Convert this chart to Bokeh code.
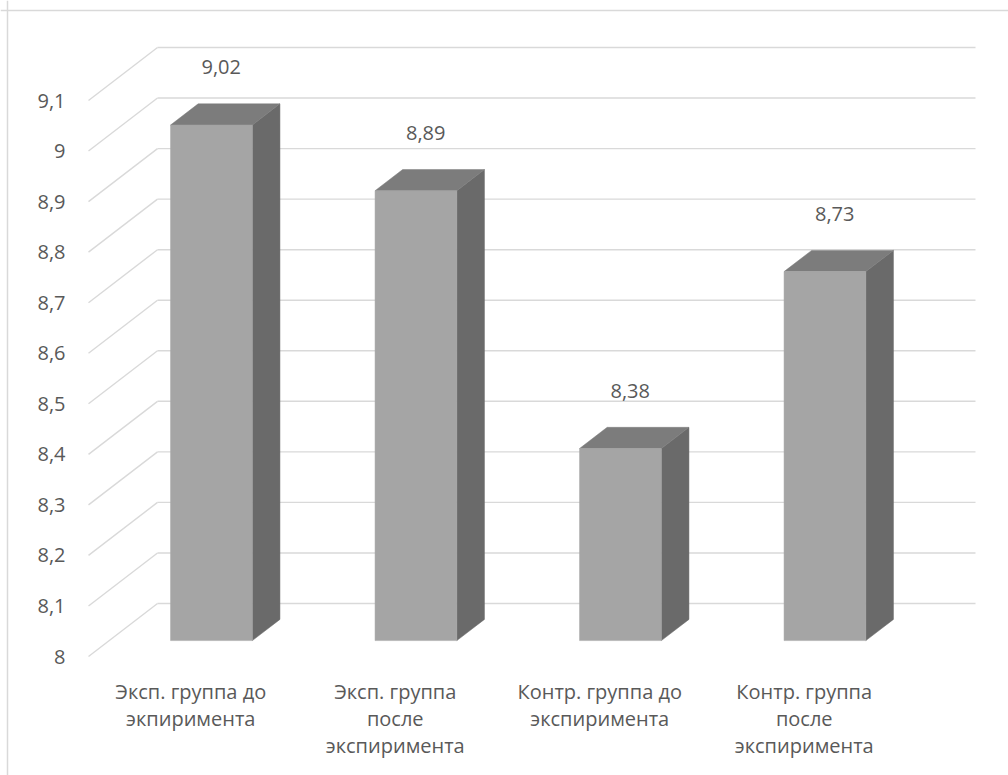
from bokeh.plotting import figure
from bokeh.models import Range1d, Span, ColumnDataSource
from bokeh.core.properties import value
from bokeh.embed import file_html
from bokeh.resources import INLINE

# ---- data -------------------------------------------------------------
categories = [
    "Эксп. группа до\nэкпиримента",
    "Эксп. группа\nпосле\nэкспиримента",
    "Контр. группа до\nэкспиримента",
    "Контр. группа\nпосле\nэкспиримента",
]
scores = [9.02, 8.89, 8.38, 8.73]
y_ticks = [8.0, 8.1, 8.2, 8.3, 8.4, 8.5, 8.6, 8.7, 8.8, 8.9, 9.0, 9.1]
y_tick_labels = ["8", "8,1", "8,2", "8,3", "8,4", "8,5", "8,6", "8,7", "8,8", "8,9", "9", "9,1"]
y_min = 8.0


def ru(v):
    return f"{v:.2f}".replace(".", ",")


value_labels = [ru(v) for v in scores]

# ---- layout (pixels) --------------------------------------------------
W, H = 1008, 775
X0_PX = 88          # front-left corner of the floor
PX_PER_CAT = 204.5  # width of one category slot
Y0_PX = 656         # front floor level (value = y_min)
PX_PER_UNIT = 505.45
DEPTH_PX = (69, 53)  # oblique offset from front plane to back wall

x_range = Range1d(-X0_PX / PX_PER_CAT, (W - X0_PX) / PX_PER_CAT)
y_range = Range1d(y_min - (H - Y0_PX) / PX_PER_UNIT, y_min + Y0_PX / PX_PER_UNIT)
DX = DEPTH_PX[0] / PX_PER_CAT
DY = DEPTH_PX[1] / PX_PER_UNIT

n = len(scores)
HALF = 0.2          # half bar width (gap width 150%)
D0, D1 = 0.3, 0.7   # bar depth, front and back

FONT = value("Open Sans")
TEXT_COLOR = "#595959"
GRID_COLOR = "#D9D9D9"

p = figure(width=W, height=H, x_range=x_range, y_range=y_range,
           output_backend="svg", toolbar_location=None,
           x_axis_location=None, y_axis_location=None,
           min_border=0, outline_line_color=None,
           background_fill_color="white", border_fill_color="white")
p.min_border_left = p.min_border_right = p.min_border_top = p.min_border_bottom = 0
p.xgrid.visible = False
p.ygrid.visible = False

# chart area border (top and left edges)
p.add_layout(Span(location=x_range.start + 7 / PX_PER_CAT, dimension="height",
                  line_color=GRID_COLOR, line_width=1.5))
p.add_layout(Span(location=y_range.end - 10 / PX_PER_UNIT, dimension="width",
                  line_color=GRID_COLOR, line_width=1.5))

# ---- gridlines: back wall + left side wall ----------------------------
grid = ColumnDataSource(dict(
    bx0=[0 + DX] * len(y_ticks), bx1=[n + DX] * len(y_ticks),
    by=[t + DY for t in y_ticks],
    sx0=[0] * len(y_ticks), sy0=y_ticks,
    sx1=[DX] * len(y_ticks),
))
p.segment(x0="bx0", y0="by", x1="bx1", y1="by", source=grid,
          line_color=GRID_COLOR, line_width=1.4)
p.segment(x0="sx0", y0="sy0", x1="sx1", y1="by", source=grid,
          line_color=GRID_COLOR, line_width=1.4)

# ---- 3D columns -------------------------------------------------------
front_xs, front_ys, top_xs, top_ys, side_xs, side_ys = [], [], [], [], [], []
for i, v in enumerate(scores):
    c = i + 0.5
    l, r = c - HALF, c + HALF
    front_xs.append([l + D0 * DX, r + D0 * DX, r + D0 * DX, l + D0 * DX])
    front_ys.append([y_min + D0 * DY, y_min + D0 * DY, v + D0 * DY, v + D0 * DY])
    top_xs.append([l + D0 * DX, r + D0 * DX, r + D1 * DX, l + D1 * DX])
    top_ys.append([v + D0 * DY, v + D0 * DY, v + D1 * DY, v + D1 * DY])
    side_xs.append([r + D0 * DX, r + D1 * DX, r + D1 * DX, r + D0 * DX])
    side_ys.append([y_min + D0 * DY, y_min + D1 * DY, v + D1 * DY, v + D0 * DY])

p.patches(side_xs, side_ys, fill_color="#6A6A6A", line_color="#6A6A6A", line_width=0.5)
p.patches(top_xs, top_ys, fill_color="#7C7C7C", line_color="#7C7C7C", line_width=0.5)
p.patches(front_xs, front_ys, fill_color="#A5A5A5", line_color="#A5A5A5", line_width=0.5)

# ---- value labels above each column -----------------------------------
mid = 0.5 * (D0 + D1)
lab = ColumnDataSource(dict(
    x=[i + 0.5 + mid * DX for i in range(n)],
    y=[v + mid * DY for v in scores],
    t=value_labels,
))
p.text(x="x", y="y", text="t", source=lab, x_offset=-4, y_offset=-47,
       text_align="center", text_baseline="middle",
       text_font=FONT, text_font_size="20px", text_color=TEXT_COLOR)

# ---- value axis labels --------------------------------------------------
ticks = ColumnDataSource(dict(x=[0] * len(y_ticks), y=y_ticks, t=y_tick_labels))
p.text(x="x", y="y", text="t", source=ticks, x_offset=-23,
       text_align="right", text_baseline="middle",
       text_font=FONT, text_font_size="20px", text_color=TEXT_COLOR)

# ---- category labels ----------------------------------------------------
cats = ColumnDataSource(dict(x=[i + 0.5 for i in range(n)], y=[y_min] * n, t=categories))
p.text(x="x", y="y", text="t", source=cats, y_offset=21,
       text_align="center", text_baseline="top", text_line_height=1.0,
       text_font=FONT, text_font_size="20px", text_color=TEXT_COLOR)

open("out.html", "w").write(file_html(p, INLINE))
